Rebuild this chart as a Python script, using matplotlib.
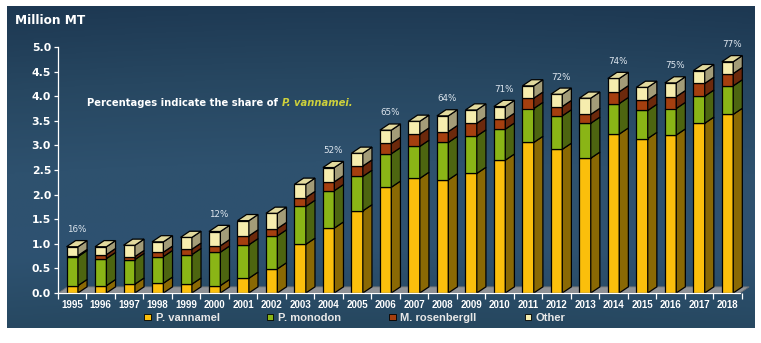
"""
Shrimp production by species, stacked pseudo-3D columns
"""
################################################################################
# Required Packages
################################################################################
import numpy as np
import matplotlib
matplotlib.use("Agg")
import matplotlib.pyplot as plt
from matplotlib.patches import Rectangle, Polygon, Patch
from matplotlib.colors import LinearSegmentedColormap

################################################################################
# Data
################################################################################
years       = [str(y) for y in range(1995, 2019)]
vannamei    = [0.15, 0.15, 0.18, 0.20, 0.18, 0.15, 0.30, 0.49, 0.99, 1.32, 1.67, 2.15,
               2.33, 2.30, 2.43, 2.70, 3.06, 2.92, 2.74, 3.23, 3.14, 3.21, 3.45, 3.63]
monodon     = [0.59, 0.55, 0.50, 0.54, 0.60, 0.68, 0.68, 0.67, 0.77, 0.76, 0.70, 0.68,
               0.65, 0.76, 0.76, 0.63, 0.69, 0.68, 0.71, 0.62, 0.57, 0.54, 0.55, 0.58]
rosenbergii = [0.02, 0.08, 0.06, 0.09, 0.11, 0.13, 0.18, 0.15, 0.18, 0.18, 0.21, 0.21,
               0.25, 0.22, 0.26, 0.20, 0.21, 0.19, 0.18, 0.24, 0.21, 0.24, 0.26, 0.25]
other       = [0.18, 0.16, 0.23, 0.21, 0.24, 0.29, 0.31, 0.31, 0.27, 0.29, 0.26, 0.27,
               0.26, 0.32, 0.27, 0.26, 0.25, 0.25, 0.33, 0.27, 0.26, 0.28, 0.26, 0.24]

pct_years   = ['1995', '2000', '2004', '2006', '2008', '2010', '2012', '2014', '2016', '2018']
pct_labels  = ['16%', '12%', '52%', '65%', '64%', '71%', '72%', '74%', '75%', '77%']

series_names = ['P. vannamel', 'P. monodon', 'M. rosenbergll', 'Other']

################################################################################
# Style
################################################################################
FRONT   = ['#fbbf0c', '#8ab516', '#a53f0f', '#f6edae']
SIDE    = ['#8a6904', '#4d6510', '#6c290c', '#a39c78']
TOP     = '#e2da9e'

BAR_W   = 0.40      # front face width (x units)
DX      = 0.32      # depth offset, x units
DY      = 0.125     # depth offset, y units

W, H    = 761, 343

fig = plt.figure(figsize = (W / 100, H / 100), dpi = 100)
fig.patch.set_facecolor('white')

########################################
# Background panel
########################################
bg = fig.add_axes([7 / W, 15 / H, 748 / W, 322 / H], zorder = -5)
bg.set_axis_off()
cmap = LinearSegmentedColormap.from_list('bg', ['#1d3852', '#274761', '#2e516e', '#2e5271', '#26475f'])
yy, xx = np.mgrid[0:1:200j, 0:1:400j]
grad = yy - 0.15 * (xx - 0.5) ** 2
bg.imshow(grad, cmap = cmap, aspect = 'auto', extent = (0, 1, 0, 1), origin = 'upper')

########################################
# Main axes
########################################
x_left, x_right = -0.49, 23.8
ax = fig.add_axes([58 / W, 50 / H, (72 + 28.5 * x_right - 58) / W, 246 / H])
ax.set_xlim(x_left, x_right)
ax.set_ylim(0, 5.0)
ax.patch.set_visible(False)

x = np.arange(len(years))
floor_end = 23.44

# floor slab
ax.add_patch(Polygon([(x_left, 0), (floor_end, 0), (floor_end + DX, DY), (x_left + DX, DY)],
                     closed = True, facecolor = '#8f9296', edgecolor = '#6c6f73', lw = 0.6,
                     zorder = 1, clip_on = False))

stacks = [vannamei, monodon, rosenbergii, other]
for i in x:
    base = 0.0
    for k, vals in enumerate(stacks):
        h   = vals[i]
        x0  = i - BAR_W / 2
        x1  = i + BAR_W / 2
        ax.add_patch(Rectangle((x0, base), BAR_W, h, facecolor = FRONT[k],
                               edgecolor = 'black', lw = 0.9, zorder = 3, clip_on = False))
        ax.add_patch(Polygon([(x1, base), (x1 + DX, base + DY), (x1 + DX, base + h + DY), (x1, base + h)],
                             closed = True, facecolor = SIDE[k], edgecolor = 'black', lw = 0.9,
                             zorder = 3, clip_on = False))
        base += h
    ax.add_patch(Polygon([(i - BAR_W / 2, base), (i - BAR_W / 2 + DX, base + DY),
                          (i + BAR_W / 2 + DX, base + DY), (i + BAR_W / 2, base)],
                         closed = True, facecolor = TOP, edgecolor = 'black', lw = 0.9,
                         zorder = 3, clip_on = False))

totals = np.sum(stacks, axis = 0)
for yr, lab in zip(pct_years, pct_labels):
    i = years.index(yr)
    ax.text(i + 0.15, totals[i] + 0.35, lab, ha = 'center', va = 'center',
            fontsize = 6.3, color = '#dfe7ef', family = 'DejaVu Sans')

########################################
# Axes cosmetics
########################################
for s in ['top', 'right']:
    ax.spines[s].set_visible(False)
ax.spines['left'].set_color('white')
ax.spines['bottom'].set_color('white')
ax.spines['left'].set_linewidth(0.9)
ax.spines['bottom'].set_linewidth(0.9)
ax.spines['bottom'].set_bounds(x_left, floor_end)
ax.spines['bottom'].set_zorder(4)

ax.set_yticks(np.arange(0, 5.01, 0.5))
ax.set_yticklabels([f'{v:.1f}' for v in np.arange(0, 5.01, 0.5)],
                   fontsize = 7.8, fontweight = 'bold', color = 'white', family = 'DejaVu Sans')
ax.tick_params(axis = 'y', colors = 'white', length = 3, width = 0.9, pad = 2)

ax.set_xticks(x)
ax.set_xticklabels(years, fontsize = 7, fontweight = 'bold', color = 'white',
                   family = 'Liberation Sans')
ax.set_xticks(np.arange(-0.5, 23.6, 1.0), minor = True)
ax.tick_params(axis = 'x', which = 'major', length = 0, pad = 5)
ax.tick_params(axis = 'x', which = 'minor', colors = 'white', length = 4, width = 0.9)

########################################
# Texts
########################################
fig.text(15 / W, 1 - 21 / H, 'Million MT', fontsize = 8.7, fontweight = 'bold',
         color = 'white', va = 'center', ha = 'left', family = 'DejaVu Sans')

t1 = fig.text(87 / W, 1 - 103 / H, 'Percentages indicate the share of ', fontsize = 7.2,
              fontweight = 'bold', color = 'white', va = 'center', ha = 'left',
              family = 'DejaVu Sans')
fig.canvas.draw()
ax.annotate('P. vannamei.', xy = (1, 0.5), xycoords = t1, va = 'center', ha = 'left',
            fontsize = 7.2, fontweight = 'bold', style = 'italic', color = '#cdd03c',
            family = 'DejaVu Sans')

########################################
# Legend
########################################
handles = [Patch(facecolor = c, edgecolor = 'black', lw = 0.6) for c in FRONT]
leg = fig.legend(handles, series_names, loc = 'center', bbox_to_anchor = (355 / W, 25 / H),
                 ncol = 4, frameon = False, handlelength = 0.55, handleheight = 0.55,
                 handletextpad = 0.45, columnspacing = 4.3,
                 prop = {'family': 'Liberation Sans', 'weight': 'bold', 'size': 8})
for t in leg.get_texts():
    t.set_color('#e8e8e8')

fig.savefig('out.png', dpi = 100)
